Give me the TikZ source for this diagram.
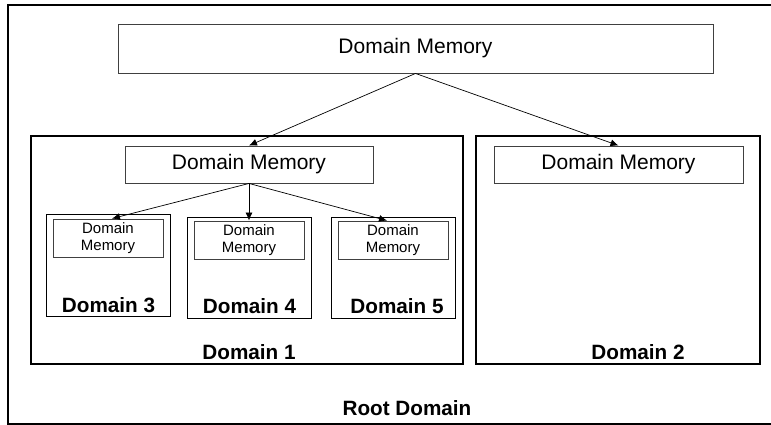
\documentclass[tikz,border=0pt]{standalone}
\usepackage{fontspec}
\setmainfont{Liberation Sans}
\usetikzlibrary{arrows.meta}
\begin{document}
\begin{tikzpicture}[x=1pt,y=-1pt,
  box/.style={draw=black, rectangle, inner sep=0pt, anchor=center},
  rootbox/.style={box, line width=2pt},
  dombox/.style={box, line width=1.5pt},
  subbox/.style={box, line width=1pt},
  membig/.style={box, draw=black!75, line width=0.9pt, font=\fontsize{21}{25}\selectfont},
  memsmall/.style={box, draw=black!75, line width=0.9pt, align=center, font=\fontsize{15}{17}\selectfont},
  lbl/.style={inner sep=0pt, anchor=center, font=\fontsize{20.7}{24}\selectfont\bfseries},
  conn/.style={line width=0.7pt, -{Latex[length=8pt,width=7pt]}}
]
\useasboundingbox (0,0) rectangle (771,425);
\node[rootbox, minimum width=767pt, minimum height=419pt] (root) at (391.5,214.5) {};
\node[membig, minimum width=595pt, minimum height=49pt] (topmem) at (415.5,48.5) {Domain Memory};
\node[dombox, minimum width=432pt, minimum height=228pt] (d1) at (247,250) {};
\node[dombox, minimum width=284pt, minimum height=228pt] (d2) at (618,250) {};
\node[membig, minimum width=248pt, minimum height=37pt] (d1mem) at (249,164.5) {Domain Memory};
\node[membig, minimum width=249pt, minimum height=37pt] (d2mem) at (618.5,164.5) {Domain Memory};
\node[subbox, minimum width=124pt, minimum height=102pt] (d3) at (108,265) {};
\node[subbox, minimum width=124pt, minimum height=101pt] (d4) at (249,267.5) {};
\node[subbox, minimum width=124pt, minimum height=101pt] (d5) at (393,267.5) {};
\node[memsmall, minimum width=110pt, minimum height=38pt] (d3mem) at (108,238) {Domain\\Memory};
\node[memsmall, minimum width=110pt, minimum height=38pt] (d4mem) at (249,240) {Domain\\Memory};
\node[memsmall, minimum width=110pt, minimum height=38pt] (d5mem) at (393,240) {Domain\\Memory};
\node[lbl] (l3) at (108.5,305) {Domain 3};
\node[lbl] (l4) at (249.5,306) {Domain 4};
\node[lbl] (l5) at (397,306) {Domain 5};
\node[lbl] (l1) at (249,352) {Domain 1};
\node[lbl] (l2) at (638,352) {Domain 2};
\node[lbl] (lr) at (407,408) {Root Domain};
\draw[conn] (topmem.south) -- (d1mem.north);
\draw[conn] (topmem.south) -- (d2mem.north);
\draw[conn] (d1mem.south) -- ([xshift=4pt]d3mem.north);
\draw[conn] (d1mem.south) -- (d4mem.north);
\draw[conn] (d1mem.south) -- ([xshift=-6pt]d5mem.north);
\end{tikzpicture}
\end{document}
